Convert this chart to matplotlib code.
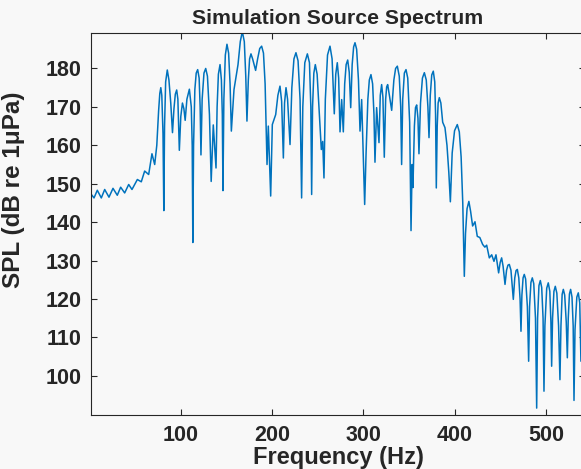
import numpy as np
from matplotlib import pyplot as plt

# frequency (Hz) and level (dB), lobe by lobe
freq_hz = [1.8, 4.7, 8.3, 12.7, 16.4, 21.1, 25.5, 30.2, 33.9, 38.3, 42.7, 46.3,
           52.2, 56.5, 60.2, 64.6, 68.2, 71.2,
           73.5, 75.5, 76.8, 77.9, 79.0, 80.3, 81.2,
           82.0, 83.2, 85.0, 86.8, 88.8, 90.7,
           92.3, 93.8, 95.3, 96.6, 98.2,
           99.8, 101.6, 103.2, 104.6,
           106.5, 109.2, 111.3, 112.3, 113.0,
           113.8, 115.2, 116.7, 118.3, 119.9, 121.0, 121.9,
           123.2, 125.2, 127.1, 129.0, 131.2, 133.1,
           135.4, 138.4,
           139.6, 141.0, 142.8, 144.3, 145.3, 146.0,
           147.0, 148.6, 150.4, 152.2, 153.8, 155.2,
           158.1, 162.5, 165.0, 167.2, 169.4, 171.0, 172.3,
           173.8, 175.2, 176.7, 178.5, 181.8,
           184.0, 186.3, 188.4, 190.4, 192.2, 194.3,
           195.7, 198.3, 200.1, 203.8, 206.2, 208.5, 210.3, 212.2,
           213.5, 215.1, 216.8, 219.5,
           221.5, 223.8, 226.0, 228.3, 230.5, 232.2,
           233.5, 235.7, 238.5, 240.8, 242.3, 243.2,
           244.2, 245.6, 247.2, 249.2, 251.6, 253.8, 255.3, 256.7,
           258.2, 260.6, 263.3, 265.6, 268.0,
           269.6, 271.3, 272.8, 274.3,
           276.1, 277.9,
           279.4, 281.0, 282.7, 284.4, 286.0,
           287.6, 289.2, 290.7, 292.5, 294.5, 296.2,
           298.0, 301.3, 302.8,
           304.8, 306.4, 308.2, 310.0, 311.5, 312.6,
           314.4, 317.0,
           318.4, 319.9, 321.3, 322.8,
           324.3, 325.4, 326.5, 328.4, 330.9,
           333.3, 335.2, 337.1, 339.2, 340.8, 341.8,
           343.0, 344.8, 346.6, 348.5, 350.6, 352.1,
           353.3, 354.2,
           355.8, 357.0, 358.3, 359.7, 360.8,
           362.5, 364.6, 366.7, 368.8, 370.6, 371.8,
           373.2, 374.8, 376.5, 378.1, 379.0, 379.8,
           380.8, 381.8, 383.1, 384.8, 386.8, 389.3,
           391.5, 393.5, 395.2,
           397.2, 399.8, 402.8, 405.0, 407.0, 408.8, 410.5,
           411.8, 413.5, 415.5, 417.4,
           419.6, 422.2, 424.7, 427.5, 430.6, 433.0, 435.0, 437.9, 440.5,
           443.0, 445.2, 448.1,
           449.8, 451.4, 453.0, 455.1,
           456.8, 458.3, 459.8, 461.6, 464.2,
           465.8, 467.2, 468.6, 470.2, 471.6, 472.6,
           473.6, 474.9, 476.2, 477.7, 479.6, 481.0,
           482.0, 483.5, 485.0, 486.6, 488.5, 489.8,
           490.8, 492.3, 493.8, 495.3, 496.8, 497.8,
           498.8, 500.8, 502.5, 504.2, 505.4, 506.2,
           507.2, 508.7, 510.2, 511.9, 513.8, 515.3,
           516.4, 517.7, 519.0, 520.5, 522.2, 523.4,
           524.4, 525.7, 527.0, 528.5, 529.8, 530.7,
           531.8, 533.8, 535.4, 537.0, 538.3, 539.5, 541.0, 543.0]
spl_db = [147.2, 146.3, 148.3, 146.3, 148.5, 146.5, 148.8, 147.0, 149.1, 147.6,
          149.8, 148.5, 151.1, 150.5, 153.3, 152.4, 157.8, 155.0,
          160.0, 169.0, 173.5, 175.0, 173.0, 163.0, 143.0,
          165.0, 176.5, 179.6, 177.0, 171.0, 163.3,
          169.5, 173.3, 174.4, 172.0, 158.7,
          167.5, 171.0, 169.5, 166.5,
          172.0, 174.6, 170.0, 160.0, 134.7,
          160.0, 174.5, 178.8, 179.7, 177.5, 170.0, 157.5,
          172.0, 178.8, 180.0, 178.0, 168.0, 150.6,
          165.3, 154.1,
          170.0, 178.5, 181.0, 177.0, 168.0, 148.2,
          172.0, 183.5, 186.3, 184.0, 176.0, 163.7,
          174.5, 181.0, 187.0, 189.6, 187.0, 178.0, 166.3,
          177.0, 182.5, 183.8, 182.5, 179.5,
          182.5, 185.2, 185.8, 184.0, 176.0, 155.0,
          165.0, 146.8, 165.4, 168.0, 173.0, 175.4, 171.5, 156.7,
          171.0, 175.0, 172.0, 160.2,
          175.0, 182.5, 184.1, 182.0, 172.0, 146.3,
          170.0, 181.5, 183.8, 181.5, 170.0, 147.2,
          170.0, 178.8, 181.0, 178.5, 168.0, 158.9, 161.0, 151.5,
          172.0, 183.5, 185.8, 182.5, 168.2,
          178.5, 181.5, 177.5, 163.5,
          171.9, 163.5,
          176.0, 181.0, 182.2, 179.0, 169.8,
          181.0, 185.6, 186.7, 185.0, 177.0, 163.7,
          171.9, 144.6, 157.6,
          172.0, 177.0, 178.4, 176.0, 168.0, 155.6,
          169.8, 160.7,
          173.0, 175.8, 172.5, 156.9,
          172.0, 175.2, 175.8, 173.0, 169.1,
          177.0, 180.0, 180.6, 178.0, 170.0, 155.0,
          172.0, 178.8, 179.7, 177.5, 166.0, 137.8,
          155.0, 149.0,
          165.0, 169.8, 170.5, 167.0, 157.8,
          171.0, 177.5, 178.9, 177.0, 170.0, 162.0,
          173.0, 178.3, 179.3, 176.5, 168.0, 148.9,
          165.0, 171.0, 172.4, 171.0, 166.0, 164.6,
          160.0, 153.0, 145.3,
          158.0, 163.8, 165.4, 163.5, 157.0, 145.0, 125.9,
          137.0, 143.5, 145.4, 142.8,
          139.0, 140.1, 136.3, 136.0, 134.2, 133.5, 134.0, 130.7, 131.5,
          129.8, 131.5, 126.8,
          129.5, 130.7, 128.5, 123.8,
          127.5, 128.8, 129.0, 127.5, 119.9,
          125.5, 127.4, 127.7, 125.5, 120.0, 111.6,
          121.0, 125.5, 126.4, 125.2, 118.0, 103.8,
          118.0, 124.3, 125.5, 124.0, 115.0, 91.6,
          115.0, 123.5, 124.8, 123.0, 115.0, 96.0,
          113.0, 122.8, 124.2, 122.0, 114.0, 102.5,
          115.0, 122.0, 123.3, 121.5, 113.0, 99.0,
          113.0, 121.2, 122.5, 121.0, 114.0, 104.7,
          115.0, 121.3, 122.5, 120.5, 113.0, 93.6,
          112.0, 120.5, 121.6, 119.0, 103.8, 112.0, 119.0, 121.0]

xticks = [100, 200, 300, 400, 500]
yticks = [100, 110, 120, 130, 140, 150, 160, 170, 180]

plt.rcParams['font.family'] = ['Liberation Sans', 'DejaVu Sans']
plt.rcParams['font.weight'] = 'bold'

fig = plt.figure(figsize=(5.81, 4.69), dpi=100, facecolor='#f8f8f8')
ax = fig.add_axes([0.1571, 0.1151, 0.8497, 0.8151], facecolor='#f8f8f8')
ax.plot(freq_hz, spl_db, color='#0072BD', lw=1.1)

ax.set_xlim(1.7, 542.7)
ax.set_ylim(89.8, 189.3)
ax.set_xticks(xticks)
ax.set_yticks(yticks)
ax.tick_params(direction='in', length=4, width=0.8, top=True, right=True,
               labelsize=15.5, color='#262626', labelcolor='#262626', pad=7)
for s in ax.spines.values():
    s.set_color('#262626')
    s.set_linewidth(0.8)

ax.set_title('Simulation Source Spectrum', fontsize=15.3, fontweight='bold',
             color='#262626', pad=6)
ax.set_xlabel('Frequency (Hz)', fontsize=17, fontweight='bold',
              color='#262626', labelpad=0)
ax.set_ylabel('SPL (dB re 1μPa)', fontsize=17.5, fontweight='bold',
              color='#262626')
ax.yaxis.set_label_coords(-0.135, 0.59)

fig.savefig('out.png', dpi=100, facecolor=fig.get_facecolor())
